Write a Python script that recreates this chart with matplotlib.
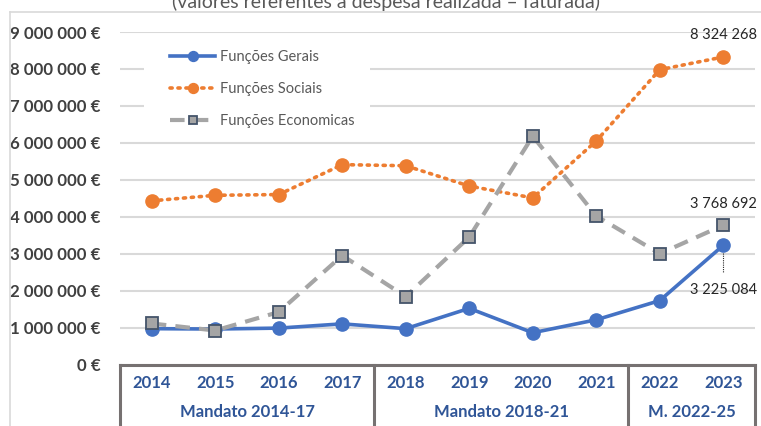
import matplotlib
matplotlib.use("Agg")
import matplotlib.pyplot as plt
from matplotlib.lines import Line2D
from matplotlib.patches import Rectangle

plt.rcParams['font.family'] = ['Lato', 'DejaVu Sans']

years = ["2014", "2015", "2016", "2017", "2018", "2019", "2020", "2021", "2022", "2023"]
groups = ["Mandato 2014-17", "Mandato 2018-21", "M. 2022-25"]
group_sizes = [4, 4, 2]
gerais = [970000, 960000, 985000, 1100000, 970000, 1520000, 860000, 1210000, 1730000, 3225084]
sociais = [4430000, 4580000, 4600000, 5410000, 5380000, 4830000, 4510000, 6050000, 7980000, 8324268]
economicas = [1110000, 920000, 1420000, 2950000, 1840000, 3450000, 6180000, 4020000, 3000000, 3768692]
yticks = [0, 1e6, 2e6, 3e6, 4e6, 5e6, 6e6, 7e6, 8e6, 9e6]
ytick_labels = ["0 €", "1 000 000 €", "2 000 000 €", "3 000 000 €", "4 000 000 €",
                "5 000 000 €", "6 000 000 €", "7 000 000 €", "8 000 000 €", "9 000 000 €"]
title = "(valores referentes à despesa realizada – faturada)"

W, H = 761, 426
fig = plt.figure(figsize=(W / 100, H / 100), dpi=100)
AX_L, AX_R, AX_T, AX_B = 120, 755, 32, 364.5
ax = fig.add_axes([AX_L / W, (H - AX_B) / H, (AX_R - AX_L) / W, (AX_B - AX_T) / H])


def ax_frac(px, py):
    return (px - AX_L) / (AX_R - AX_L), (AX_B - py) / (AX_B - AX_T)


x = list(range(len(years)))
ax.plot(x, gerais, color="#4472C4", lw=2.6, marker="o", ms=9.5,
        label="Funções Gerais", zorder=3)
ax.plot(x, sociais, color="#ED7D31", lw=2.6, ls=(0, (0.6, 1.6)), dash_capstyle="round",
        marker="o", ms=9.5, label="Funções Sociais", zorder=3)
ax.plot(x, economicas, color="#A5A5A5", lw=3, ls=(0, (3.5, 2.2)), marker="s", ms=8.5,
        markerfacecolor="#A5A5A5", markeredgecolor="#44546A", markeredgewidth=1.3,
        label="Funções Economicas", zorder=4)

ax.set_xlim(-0.5, len(years) - 0.5)
ax.set_ylim(0, 9e6)
ax.set_yticks(yticks)
ax.set_yticklabels(ytick_labels, fontsize=12.2, fontweight="bold", color="#404040")
ax.tick_params(axis="y", length=0, pad=14)
ax.set_xticks([])
ax.grid(axis="y", color="#D9D9D9", lw=1.5, zorder=0)
ax.set_axisbelow(True)
for s in ax.spines.values():
    s.set_visible(False)

# white patch behind legend (hides gridlines)
x0, y0 = ax_frac(144, 135)
x1, y1 = ax_frac(370, 40)
ax.add_patch(Rectangle((x0, y0), x1 - x0, y1 - y0, transform=ax.transAxes,
                       facecolor="white", edgecolor="none", zorder=1))

# category table below the axis
bc = "#767171"
ax.plot([-0.5, len(years) - 0.5], [0, 0], color=bc, lw=2.2, clip_on=False, zorder=5)
trans = ax.get_xaxis_transform()
bounds = [-0.5]
acc = -0.5
for g in group_sizes:
    acc += g
    bounds.append(acc)
for b in bounds:
    ax.plot([b, b], [0, -0.3], color=bc, lw=2.2, clip_on=False, transform=trans)
for i, yr in enumerate(years):
    ax.text(i, -0.0556, yr, transform=trans, ha="center", va="center",
            fontsize=12, fontweight="bold", color="#2F5597")
for gi, gname in enumerate(groups):
    cx = (bounds[gi] + bounds[gi + 1]) / 2
    ax.text(cx, -0.143, gname, transform=trans, ha="center", va="center",
            fontsize=12, fontweight="bold", color="#2F5597")

# data labels
ax.annotate("8 324 268", (9, sociais[9]), xytext=(0, 16), textcoords="offset points",
            ha="center", va="center", fontsize=10.5, color="#262626")
ax.annotate("3 768 692", (9, economicas[9]), xytext=(0, 15), textcoords="offset points",
            ha="center", va="center", fontsize=10.5, color="#262626")
ax.annotate("3 225 084", (9, gerais[9]), xytext=(0, -32), textcoords="offset points",
            ha="center", va="center", fontsize=10.5, color="#262626")
ax.plot([9, 9], [gerais[9] - 0.2e6, gerais[9] - 0.75e6], color="#262626", lw=0.8,
        ls=(0, (1, 1)), zorder=2)

lx, ly = ax_frac(170, 50)
leg = ax.legend(loc="upper left", bbox_to_anchor=(lx, ly), frameon=False,
                fontsize=10.5, labelcolor="#595959", handlelength=3.1, labelspacing=1.25,
                borderpad=0, handletextpad=0.35, borderaxespad=0, markerscale=0.75)
leg.set_zorder(6)

# chart area border
fig.add_artist(Line2D([10 / W, 10 / W], [0, (H - 12) / H], color="#D9D9D9", lw=1.2))
fig.add_artist(Line2D([10 / W, 1], [(H - 12) / H, (H - 12) / H], color="#D9D9D9", lw=1.2))

fig.text(386 / W, (H - 8) / H, title, ha="center", va="baseline", fontsize=14,
         color="#595959")

fig.savefig("out.png", dpi=100)
